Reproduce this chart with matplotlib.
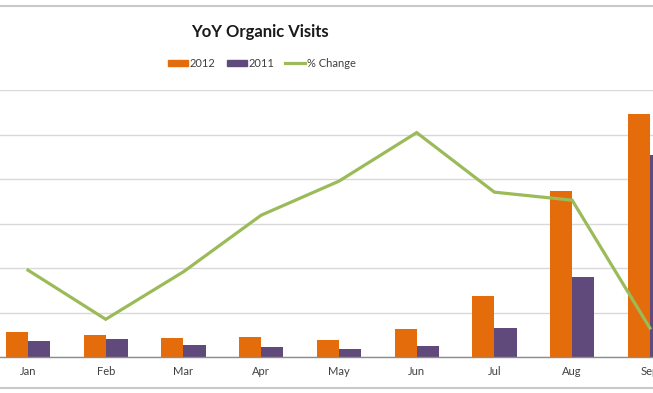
import matplotlib.pyplot as plt
from matplotlib.lines import Line2D
from matplotlib.patches import Patch

# Значення (відвідування, % зміни)
MONTHS = ["Jan", "Feb", "Mar", "Apr", "May", "Jun", "Jul", "Aug", "Sep"]
VISITS_2012 = [567, 500, 426, 448, 381, 628, 1368, 3722, 5455]
VISITS_2011 = [365, 404, 276, 231, 179, 253, 650, 1800, 4552]
PCT_CHANGE = [58.7, 25.6, 57.6, 95.7, 118.6, 151.3, 111.2, 105.8, 19.7]

ORANGE = "#E46C0A"
PURPLE = "#604A7B"
GREEN = "#9BBB59"
FONT = "Lato"


def plot_chart():
    fig = plt.figure(figsize=(6.53, 3.93), dpi=100)
    W, H = 653, 393

    # область графіка: від лінії 0 (y=357) до верхньої сітки (y=90)
    ax = fig.add_axes([0, (H - 357.3) / H, 1, (357.3 - 90) / H])
    x = list(range(len(MONTHS)))
    bw = 0.285
    ax.bar([i - bw / 2 for i in x], VISITS_2012, width=bw, color=ORANGE, zorder=2)
    ax.bar([i + bw / 2 for i in x], VISITS_2011, width=bw, color=PURPLE, zorder=2)

    ax.set_xlim(-0.36, 8.04)
    ax.set_ylim(0, 6000)
    ax.set_yticks(range(0, 6001, 1000))
    ax.yaxis.grid(True, color="#D9D9D9", linewidth=1.0, zorder=0)
    ax.set_axisbelow(True)
    ax.tick_params(axis="y", length=0, labelleft=False)
    ax.set_xticks(x, MONTHS)
    ax.tick_params(axis="x", length=0, pad=6.5, labelsize=8, labelcolor="#404040")
    for lbl in ax.get_xticklabels():
        lbl.set_fontfamily(FONT)
    for side in ["left", "right", "top"]:
        ax.spines[side].set_visible(False)
    ax.spines["bottom"].set_color("#8C8C8C")
    ax.spines["bottom"].set_linewidth(1.0)

    # друга вісь для % зміни
    ax2 = ax.twinx()
    ax2.plot(x, PCT_CHANGE, color=GREEN, linewidth=2.3, solid_joinstyle="miter")
    ax2.set_ylim(0, 180)
    ax2.set_yticks([])
    for side in ["left", "right", "top", "bottom"]:
        ax2.spines[side].set_visible(False)

    fig.text(260 / W, 1 - 32 / H, "YoY Organic Visits", ha="center", va="center",
             fontsize=12, fontweight="bold", family=FONT, color="#1a1a1a")

    handles = [
        Patch(color=ORANGE, label="2012"),
        Patch(color=PURPLE, label="2011"),
        Line2D([0], [0], color=GREEN, linewidth=2.3, label="% Change"),
    ]
    fig.legend(handles=handles, loc="center", bbox_to_anchor=(262 / W, 1 - 63.5 / H),
               ncol=3, frameon=False, prop={"family": FONT, "size": 8},
               handlelength=1.8, handleheight=0.5, handletextpad=0.15,
               columnspacing=1.0, labelcolor="#404040")

    # рамка діаграми зверху та знизу
    for yy in [6, 388]:
        fig.add_artist(Line2D([0, 1], [1 - yy / H, 1 - yy / H], color="#C8C8C8",
                              linewidth=1.5))

    fig.savefig("out.png", dpi=100)


if __name__ == "__main__":
    plot_chart()
